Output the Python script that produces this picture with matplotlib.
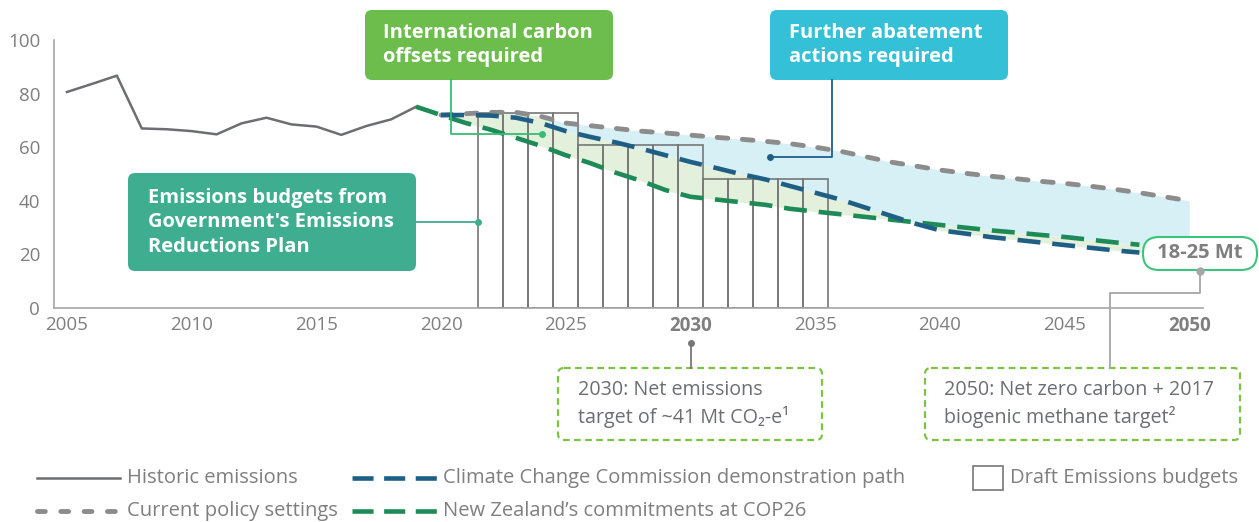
import matplotlib
matplotlib.use('Agg')
import matplotlib.pyplot as plt
from matplotlib.patches import FancyBboxPatch, Rectangle
from matplotlib.lines import Line2D
from matplotlib.transforms import Affine2D
import numpy as np

# === DATA ===
hist_years = [2005, 2006, 2007, 2008, 2009, 2010, 2011, 2012, 2013, 2014, 2015, 2016, 2017, 2018, 2019]
hist_vals = [80.6, 83.6, 86.7, 67.0, 66.7, 66.0, 64.8, 68.9, 71.0, 68.5, 67.7, 64.6, 67.9, 70.4, 75.1]

policy_years = list(range(2020, 2051))
policy_vals = [72.0, 72.5, 73.0, 73.0, 71.5, 69.0, 68.0, 67.0, 66.0, 65.3, 64.5, 63.7, 63.0, 62.2, 61.3,
               60.0, 58.5, 56.5, 54.5, 53.0, 51.5, 50.3, 49.2, 48.3, 47.3, 46.5, 45.5, 44.3, 43.0, 41.5, 40.0]

ccc_years = list(range(2020, 2049))
ccc_vals = [72.0, 72.0, 71.8, 71.0, 69.0, 66.0, 63.8, 61.8, 59.5, 57.0, 54.5, 52.3, 50.0, 48.0, 45.5,
            43.0, 40.5, 37.5, 34.5, 31.5, 29.0, 27.8, 26.5, 25.5, 24.5, 23.5, 22.5, 21.5, 20.7]

cop_years = list(range(2019, 2049))
cop_vals = [75.1, 72.0, 69.0, 66.5, 63.5, 60.5, 57.0, 54.0, 50.5, 47.5, 44.0, 41.5, 40.5, 39.5, 38.5,
            37.0, 36.0, 35.0, 34.0, 33.0, 32.0, 31.0, 30.0, 29.0, 28.2, 27.3, 26.5, 25.5, 24.5, 23.6]

budget_years = [2022, 2023, 2024, 2025, 2026, 2027, 2028, 2029, 2030, 2031, 2032, 2033, 2034, 2035]
budget_vals = [72.6, 72.6, 72.6, 72.6, 61.0, 61.0, 61.0, 61.0, 61.0, 48.0, 48.0, 48.0, 48.0, 48.0]

x_ticks = [2005, 2010, 2015, 2020, 2025, 2030, 2035, 2040, 2045, 2050]
y_ticks = [0, 20, 40, 60, 80, 100]

# === STYLE ===
W, H = 1259, 522
plt.rcParams['font.family'] = ['Open Sans', 'DejaVu Sans']
GREY_TXT = '#7f7f7f'
C_HIST = '#6d6e71'
C_POLICY = '#8c8c8c'
C_CCC = '#1f5f86'
C_COP = '#1e8a57'
FS = 14.5

fig = plt.figure(figsize=(W / 100, H / 100), dpi=100)
ax = fig.add_axes([54 / W, 1 - 308 / H, (1203 - 54) / W, (308 - 40) / H])
ax.set_xlim(2004.48, 2050.55)
ax.set_ylim(0, 100)

# fills
xf = np.linspace(2020, 2050, 601)
pol_f = np.interp(xf, policy_years, policy_vals)
ccc_f = np.interp(xf, ccc_years, ccc_vals)
cop_f = np.interp(xf, cop_years, cop_vals)
upper_green = np.where(xf < 2024.5, pol_f, ccc_f)
ax.fill_between(xf, cop_f, upper_green, where=xf <= 2048.5, color='#e3f1dc', lw=0, zorder=1)
lower_blue = np.maximum(ccc_f, cop_f)
ax.fill_between(xf, lower_blue, pol_f, where=xf >= 2024.3, color='#d7f0f5', lw=0, zorder=1)

# draft budgets
ax.bar(budget_years, budget_vals, width=1.0, facecolor='none', edgecolor='#777777', linewidth=1.2, zorder=2)

# lines
ax.plot(hist_years, hist_vals, color=C_HIST, lw=1.8, zorder=3)
ax.plot(policy_years, policy_vals, color=C_POLICY, lw=3.5, dashes=(2.2, 3.0), dash_capstyle='round', zorder=4)
ax.plot(cop_years, cop_vals, color=C_COP, lw=3.3, dashes=(5.0, 2.6), zorder=4)
ax.plot(ccc_years, ccc_vals, color=C_CCC, lw=3.3, dashes=(5.0, 2.6), zorder=5)

# axes styling
for s in ['top', 'right']:
    ax.spines[s].set_visible(False)
for s in ['left', 'bottom']:
    ax.spines[s].set_color('#a6a6a6')
    ax.spines[s].set_linewidth(1.2)
ax.set_xticks(x_ticks)
ax.set_xticklabels([str(t) for t in x_ticks])
for lab in ax.get_xticklabels():
    if lab.get_text() in ('2030', '2050'):
        lab.set_fontweight('bold')
ax.set_yticks(y_ticks)
ax.tick_params(axis='both', length=0, labelsize=13.5, colors=GREY_TXT)
ax.tick_params(axis='x', pad=6)
ax.tick_params(axis='y', pad=10)
ax.patch.set_alpha(0)

# === ANNOTATIONS (pixel layout) ===
T = Affine2D().scale(1 / W, -1 / H).translate(0, 1) + fig.transFigure


def box(x0, y0, x1, y1, face, edge=None, ls='-', r=7, lw=0.0):
    p = FancyBboxPatch((x0, y0), x1 - x0, y1 - y0, boxstyle=f"round,pad=0,rounding_size={r}",
                       transform=T, facecolor=face, edgecolor=edge if edge else face,
                       linewidth=lw, linestyle=ls, zorder=6)
    fig.add_artist(p)


def line(xs, ys, color, lw=1.3, dot=None, ds=5):
    fig.add_artist(Line2D(xs, ys, transform=T, color=color, lw=lw, zorder=7))
    if dot is not None:
        fig.add_artist(Line2D([dot[0]], [dot[1]], transform=T, marker='o', ms=ds, color=color,
                              markeredgewidth=0, zorder=7))


def txt(x, y, s, color='white', weight='bold', size=FS, ha='left', ls=1.3):
    fig.text(x, y, s, transform=T, color=color, fontweight=weight, fontsize=size,
             ha=ha, va='center', linespacing=ls, zorder=8)


# offsets box
box(365, 10, 613, 80, '#6cbd4c')
txt(383, 45, "International carbon\noffsets required")
line([451, 451, 542], [80, 134, 134], '#35bd74', dot=(542, 134))

# abatement box
box(770, 10, 1008, 80, '#34c1d8')
txt(789, 45, "Further abatement\nactions required")
line([832, 832, 770], [80, 157, 157], C_CCC, dot=(770, 157))

# budgets box
box(128, 173, 416, 271, '#3fad90')
txt(148, 222, "Emissions budgets from\nGovernment's Emissions\nReductions Plan")
line([416, 478], [222, 222], '#3fad90', dot=(478, 222))

# 18-25 Mt
line([1200, 1200, 1110, 1110], [272, 293, 293, 368], '#a6a6a6', dot=(1200, 271), ds=6)
box(1143, 237, 1257, 270, 'white', edge='#3cc47c', r=16, lw=1.5)
txt(1200, 253, "18-25 Mt", color=GREY_TXT, ha='center')

# 2030 target
line([691, 691], [343, 368], '#777777', dot=(691, 343))
box(558, 368, 822, 440, 'white', edge='#7dc242', ls=(0, (3, 2)), r=6, lw=1.6)
txt(578, 404, "2030: Net emissions\ntarget of ~41 Mt CO\u2082-e\u00b9", color='#6d6e71', weight='normal', size=14.2, ls=1.35)

# 2050 target
box(925, 368, 1240, 440, 'white', edge='#7dc242', ls=(0, (3, 2)), r=6, lw=1.6)
txt(944, 404, "2050: Net zero carbon + 2017\nbiogenic methane target\u00b2", color='#6d6e71', weight='normal', size=14.2, ls=1.35)

# === LEGEND (manual) ===
fig.add_artist(Line2D([37, 120], [478, 478], transform=T, color=C_HIST, lw=1.8))
fig.add_artist(Line2D([37, 120], [511, 511], transform=T, color=C_POLICY, lw=3.5, dashes=(1.6, 3.2),
                      dash_capstyle='round'))
fig.add_artist(Line2D([352, 437], [478, 478], transform=T, color=C_CCC, lw=3.3, dashes=(4.6, 2.3)))
fig.add_artist(Line2D([352, 437], [511, 511], transform=T, color=C_COP, lw=3.3, dashes=(4.6, 2.3)))
fig.add_artist(Rectangle((973, 466), 30, 24, transform=T, facecolor='none', edgecolor='#777777', lw=1.2))
txt(127, 478, "Historic emissions", color=GREY_TXT, weight='normal')
txt(127, 511, "Current policy settings", color=GREY_TXT, weight='normal')
txt(443, 478, "Climate Change Commission demonstration path", color=GREY_TXT, weight='normal')
txt(443, 511, "New Zealand\u2019s commitments at COP26", color=GREY_TXT, weight='normal')
txt(1010, 478, "Draft Emissions budgets", color=GREY_TXT, weight='normal')

fig.savefig('out.png', dpi=100)
